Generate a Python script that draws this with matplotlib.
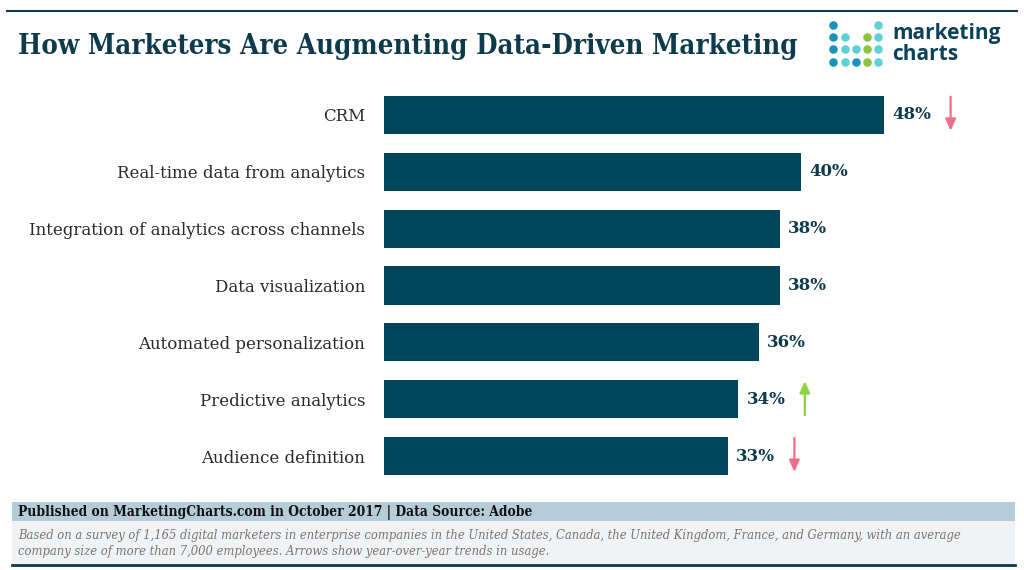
import matplotlib.pyplot as plt
from matplotlib.patches import Rectangle

categories = ["CRM", "Real-time data from analytics", "Integration of analytics across channels",
              "Data visualization", "Automated personalization", "Predictive analytics",
              "Audience definition"]
values = [48, 40, 38, 38, 36, 34, 33]
trends = ["down", None, None, None, None, "up", "down"]

title = "How Marketers Are Augmenting Data-Driven Marketing"
source = "Published on MarketingCharts.com in October 2017 | Data Source: Adobe"
note = ("Based on a survey of 1,165 digital marketers in enterprise companies in the United States, Canada, "
        "the United Kingdom, France, and Germany, with an average\ncompany size of more than 7,000 employees. "
        "Arrows show year-over-year trends in usage.")

W, H = 1024, 570
BAR = "#02465c"
TXT = "#0d3b4d"
SERIF = ["DejaVu Serif"]

fig = plt.figure(figsize=(W / 100, H / 100), dpi=100)

# overlay in pixel coordinates for header / footer decorations
bg = fig.add_axes([0, 0, 1, 1])
bg.set_xlim(0, W)
bg.set_ylim(H, 0)
bg.axis("off")

bg.plot([7, 1017], [11, 11], color="#0b3a4d", lw=1.5)
bg.text(18, 46, title, family=SERIF, fontweight="bold", fontsize=19.8, fontstretch="condensed",
        color=TXT, va="center", ha="left")

# logo
dot_cols = [833, 845, 856, 867, 878]
dot_rows = [25, 37, 49, 62]
c_b, c_c, c_g = "#1a93b8", "#5fd0d6", "#8cc63f"
pattern = [
    [c_b, None, None, None, c_c],
    [c_b, c_c, None, c_g, c_c],
    [c_b, c_c, c_c, c_g, c_c],
    [c_b, c_c, c_b, c_g, c_c],
]
for r, row in enumerate(pattern):
    for c, col in enumerate(row):
        if col:
            bg.scatter(dot_cols[c], dot_rows[r], s=38, color=col, lw=0)
bg.text(892, 33, "marketing", family="Open Sans", fontweight="bold", fontsize=15,
        color="#0b4258", va="center", ha="left")
bg.text(892, 55, "charts", family="Open Sans", fontweight="bold", fontsize=15,
        color="#0b4258", va="center", ha="left")

# footer
bg.add_patch(Rectangle((12, 502), 1003, 19, color="#b4cdd9", lw=0))
bg.add_patch(Rectangle((12, 521), 1003, 44, color="#f1f2f4", lw=0))
bg.plot([12, 1015], [565, 565], color="#0b3a4d", lw=2)
bg.text(18, 512, source, family=SERIF, fontweight="bold", fontsize=9.9, fontstretch="condensed",
        color="#111111", va="center", ha="left")
bg.text(18, 543, note, family=SERIF, style="italic", fontsize=9.3, fontstretch="condensed",
        color="#777777", va="center", ha="left", linespacing=1.3)

# bars
ax = fig.add_axes([384 / W, 1 - 484.5 / H, (1010 - 384) / W, (484.5 - 86.5) / H])
y = list(range(len(categories)))
ax.barh(y, values, height=0.67, color=BAR)
ax.set_xlim(0, 60.1)
ax.set_ylim(len(categories) - 0.5, -0.5)
ax.set_yticks(y)
ax.set_yticklabels(categories, family=SERIF, fontsize=12, color="#2a2a2a")
ax.tick_params(axis="y", length=0, pad=13.5)
ax.set_xticks([])
for s in ax.spines.values():
    s.set_visible(False)

for i, (v, t) in enumerate(zip(values, trends)):
    ax.annotate(f"{v}%", (v, i), xytext=(6, 0), textcoords="offset points", va="center",
                ha="left", family=SERIF, fontweight="bold", fontsize=12, color=TXT)
    if t:
        color = "#f26d85" if t == "down" else "#8fd13f"
        y0, y1 = (i - 0.32, i + 0.28) if t == "down" else (i + 0.28, i - 0.32)
        ax.annotate("", xy=(v + 6.4, y1), xytext=(v + 6.4, y0),
                    arrowprops=dict(arrowstyle="-|>,head_length=0.5,head_width=0.22",
                                    color=color, lw=1.6, mutation_scale=14,
                                    shrinkA=0, shrinkB=0))

fig.savefig("out.png", dpi=100)
